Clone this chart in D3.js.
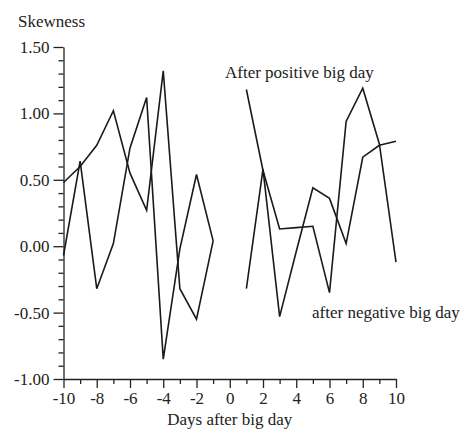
<!DOCTYPE html>
<html><head><meta charset="utf-8">
<script src="https://cdn.jsdelivr.net/npm/d3@7"></script>
<style>body{margin:0;background:#fff}svg text{font-family:"Liberation Serif","Times New Roman",serif !important;fill:#222}</style>
</head><body><div id="chart"></div>
<script>
const daysBefore = [-10,-9,-8,-7,-6,-5,-4,-3,-2,-1];
const daysAfter = [1,2,3,4,5,6,7,8,9,10];
const positiveBefore = [0.48,0.60,0.76,1.02,0.55,0.27,1.32,-0.32,-0.55,0.04];
const negativeBefore = [-0.07,0.64,-0.32,0.02,0.74,1.12,-0.85,-0.02,0.54,0.04];
const positiveAfter = [1.18,0.57,0.13,0.14,0.15,-0.35,0.94,1.19,0.77,-0.12];
const negativeAfter = [-0.32,0.58,-0.53,-0.04,0.44,0.36,0.02,0.67,0.76,0.79];
const xTicks = [-10,-8,-6,-4,-2,0,2,4,6,8,10];
const yTicks = [-1.0,-0.5,0,0.5,1.0,1.5];
const labels = {y:"Skewness", x:"Days after big day", pos:"After positive big day", neg:"after negative big day"};

const W=472,H=433;
const svg=d3.select("#chart").append("svg").attr("width",W).attr("height",H);
const x=d3.scaleLinear().domain([-10,10]).range([63.5,396]);
const y=d3.scaleLinear().domain([-1,1.5]).range([379,47]);
const fs=17;
const hy=f=>d=>f(d).replace("\u2212","-");

svg.append("g").attr("transform",`translate(${x(-10)},0)`)
 .call(d3.axisLeft(y).tickValues(yTicks).tickFormat(hy(d3.format(".2f"))).tickSize(10).tickSizeOuter(0).tickPadding(4));
svg.append("g").attr("transform",`translate(${x(-10)},0)`)
 .call(d3.axisLeft(y).tickValues(d3.range(-1,1.5001,0.1).filter(v=>Math.abs(Math.round(v*10)%5)!==0)).tickFormat("").tickSize(5).tickSizeOuter(0))
 .select(".domain").remove();
svg.append("g").attr("transform",`translate(0,${y(-1)})`)
 .call(d3.axisBottom(x).tickValues(xTicks).tickFormat(hy(d3.format("d"))).tickSize(9).tickSizeOuter(0).tickPadding(4));
svg.append("g").attr("transform",`translate(0,${y(-1)})`)
 .call(d3.axisBottom(x).tickValues(d3.range(-9,10,2)).tickFormat("").tickSize(5).tickSizeOuter(0))
 .select(".domain").remove();
svg.selectAll("g").attr("font-family","Liberation Serif");
svg.selectAll(".domain,.tick line").attr("stroke","#222").attr("stroke-width",1.3);
svg.selectAll(".tick text").attr("font-size",fs).style("font-family","'Liberation Serif', serif").attr("fill","#222");

const line=d3.line().x(d=>x(d[0])).y(d=>y(d[1]));
const series=[[daysBefore,positiveBefore],[daysBefore,negativeBefore],[daysAfter,positiveAfter],[daysAfter,negativeAfter]];
series.forEach(([xs,vs])=>{
  svg.append("path").datum(xs.map((d,i)=>[d,vs[i]])).attr("d",line)
   .attr("fill","none").attr("stroke","#1a1a1a").attr("stroke-width",1.6).attr("stroke-linejoin","miter");
});

svg.append("text").attr("x",18).attr("y",27).attr("font-size",fs).text(labels.y);
svg.append("text").attr("x",x(0)).attr("y",425).attr("text-anchor","middle").attr("font-size",fs).text(labels.x);
svg.append("text").attr("x",225).attr("y",78).attr("font-size",fs).text(labels.pos);
svg.append("text").attr("x",312).attr("y",318).attr("font-size",fs).text(labels.neg);
</script></body></html>
